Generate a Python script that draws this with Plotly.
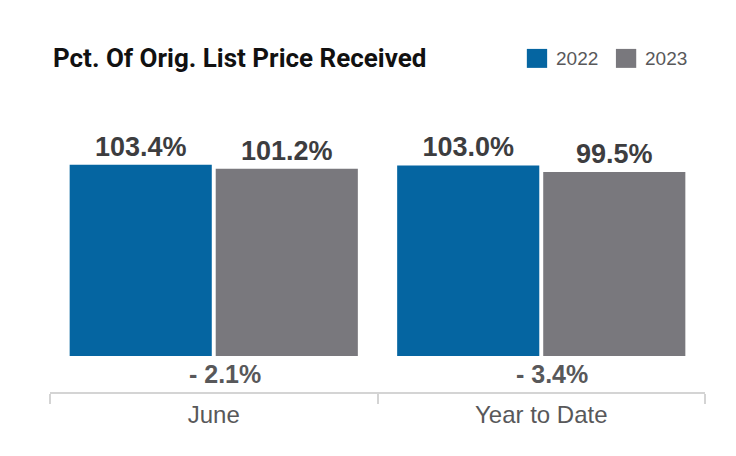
import plotly.graph_objects as go

# --- data ---
categories = ["June", "Year to Date"]
years = ["2022", "2023"]
values_2022 = [103.4, 103.0]
values_2023 = [101.2, 99.5]
pct_change = [-2.1, -3.4]

colors = {"2022": "#0565A1", "2023": "#79787D"}
series = {"2022": values_2022, "2023": values_2023}

fig = go.Figure()

for yr in years:
    fig.add_trace(go.Bar(
        x=categories,
        y=series[yr],
        name=yr,
        marker=dict(color=colors[yr], line=dict(width=0)),
        texttemplate="%{y:.1f}%",
        textposition="outside",
        textfont=dict(family="Liberation Sans", size=27, color="#3d3d3f", weight="bold"),
        cliponaxis=False,
        showlegend=False,
    ))

# change labels under each group
for cat, chg in zip(categories, pct_change):
    sign = "-" if chg < 0 else "+"
    fig.add_annotation(
        x=cat, y=0, xref="x", yref="y",
        text=f"<b>{sign} {abs(chg):.1f}%</b>",
        showarrow=False, yanchor="top", xshift=11, yshift=-2,
        font=dict(family="Liberation Sans", size=25, color="#58585a"),
    )

# hand-made legend (bigger squares than plotly's own)
legend_x = [0.728, 0.864]
for yr, lx in zip(years, legend_x):
    fig.add_shape(
        type="rect", xref="paper", yref="paper",
        x0=lx, x1=lx + 0.031, y0=1.110, y1=1.175,
        fillcolor=colors[yr], line=dict(width=0),
    )
    fig.add_annotation(
        x=lx + 0.042, y=1.142, xref="paper", yref="paper",
        text=yr, showarrow=False, xanchor="left", yanchor="middle",
        font=dict(family="Liberation Sans", size=19, color="#58585a"),
    )

# page body has an 8px margin, so the figure is 8px smaller than the window
fig.update_layout(
    width=728, height=448,
    margin=dict(l=42, r=31, t=92, b=64),
    paper_bgcolor="white",
    plot_bgcolor="white",
    barmode="group",
    bargap=0.108,
    bargroupgap=0.027,
    title=dict(
        text="<b>Pct. Of Orig. List Price Received</b>",
        x=0.0618, xanchor="left", xref="container",
        y=0.888, yanchor="middle", yref="container",
        font=dict(family="Roboto", size=26, color="#111111"),
    ),
    xaxis=dict(
        type="category",
        range=[-0.5, 1.5],
        tickson="boundaries",
        ticks="outside", ticklen=10, tickwidth=2, tickcolor="#d4d4d4",
        showline=True, linecolor="#d4d4d4", linewidth=2,
        showgrid=False, zeroline=False,
        tickfont=dict(family="Liberation Sans", size=24, color="#58585a"),
    ),
    yaxis=dict(
        range=[-19.46, 138.4],
        visible=False,
        showgrid=False, zeroline=False,
    ),
)

fig.write_html("out.html")
